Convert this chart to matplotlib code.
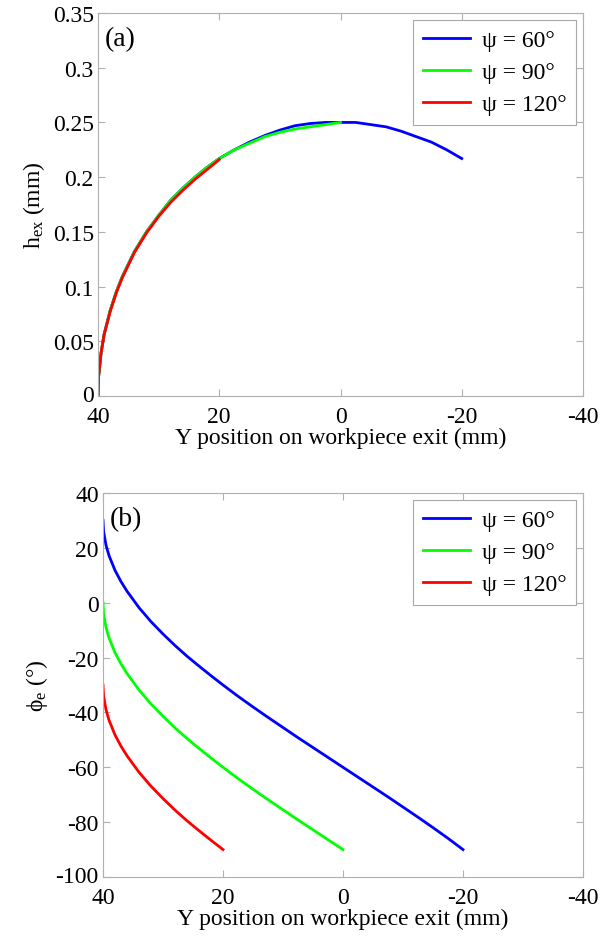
import numpy as np
import matplotlib
matplotlib.use('Agg')
import matplotlib.pyplot as plt
import matplotlib.transforms as mtransforms

plt.rcParams['font.family'] = ['Liberation Serif', 'DejaVu Serif']
plt.rcParams['mathtext.fontset'] = 'custom'
plt.rcParams['mathtext.rm'] = 'Liberation Serif'
plt.rcParams['mathtext.it'] = 'Liberation Serif:italic'
plt.rcParams['axes.unicode_minus'] = False

# Y position on workpiece exit (mm)
y60 = [40, 39.9, 39.5, 39, 38, 37, 36, 34, 32, 30, 28, 26, 24, 22, 20, 17.5, 15, 12.5,
       10, 7.5, 5, 2.5, 0, -2.5, -5, -7.5, -10, -12.5, -15, -17.5, -20]
y90 = y60[:23]
y120 = y60[:15]

# h_ex (mm)
h60 = [0, 0.018, 0.039, 0.056, 0.078, 0.095, 0.109, 0.132, 0.150, 0.165, 0.179, 0.190,
       0.200, 0.209, 0.217, 0.225, 0.232, 0.238, 0.243, 0.247, 0.249, 0.250, 0.250, 0.250,
       0.248, 0.246, 0.242, 0.237, 0.232, 0.225, 0.217]
h90 = [0, 0.018, 0.039, 0.056, 0.078, 0.095, 0.109, 0.132, 0.150, 0.165, 0.179, 0.190,
       0.200, 0.209, 0.217, 0.225, 0.231, 0.237, 0.241, 0.244, 0.246, 0.248, 0.250]
h120 = [0, 0.018, 0.039, 0.056, 0.077, 0.094, 0.108, 0.131, 0.149, 0.164, 0.177, 0.188,
        0.198, 0.207, 0.216]

# phi_e (deg)
p60 = [30, 26, 21, 17.2, 11.8, 7.7, 4.2, -1.8, -6.9, -11.4, -15.6, -19.5, -23.1, -26.6,
       -30, -34.1, -38, -41.8, -45.5, -49.2, -52.8, -56.4, -60, -63.6, -67.2, -70.8,
       -74.5, -78.2, -82, -85.9, -90]
p90 = [0, -4, -9, -12.8, -18.2, -22.3, -25.8, -31.8, -36.9, -41.4, -45.6, -49.5, -53.1,
       -56.6, -60, -64.1, -68, -71.8, -75.5, -79.2, -82.8, -86.4, -90]
p120 = [-30, -34, -39, -42.8, -48.2, -52.3, -55.8, -61.8, -66.9, -71.4, -75.6, -79.5,
        -83.1, -86.6, -90]

labels = ['ψ = 60°', 'ψ = 90°', 'ψ = 120°']
colors = ['#0000ff', '#00ff00', '#ff0000']

fig = plt.figure(figsize=(6.05, 9.37), dpi=100)
ax1 = fig.add_axes([98/605, 1-397/937, 485/605, 383/937])
ax2 = fig.add_axes([103/605, 1-878/937, 480/605, 384/937])

for ax in (ax1, ax2):
    for s in ax.spines.values():
        s.set_color('#b0b0b0')
    ax.tick_params(direction='in', length=5, color='#b0b0b0', labelsize=17,
                   top=True, right=True)
    ax.tick_params(axis='x', pad=7)
    ax.tick_params(axis='y', pad=3)
    ax.set_xlim(40, -40)
    ax.set_xticks([40, 20, 0, -20, -40])
    ax.set_xticklabels(['40', '20', '0', '-20', '-40'])
    ax.set_xlabel('Y position on workpiece exit (mm)', fontsize=17, labelpad=0)

ax1.plot(y60, h60, color=colors[0], lw=2, label=labels[0])
ax1.plot(y90, h90, color=colors[1], lw=2, label=labels[1])
ax1.plot(y120, h120, color=colors[2], lw=2, label=labels[2])
ax1.set_ylim(0, 0.35)
yt = [0, 0.05, 0.1, 0.15, 0.2, 0.25, 0.3, 0.35]
ax1.set_yticks(yt)
ax1.set_yticklabels(['0', '0.05', '0.1', '0.15', '0.2', '0.25', '0.3', '0.35'])
ax1.set_ylabel(r'h$_{\rm ex}$ (mm)', fontsize=17, labelpad=4)
ax1.text(0.014, 0.965, '(a)', transform=ax1.transAxes, fontsize=20, va='top')

ax2.plot(y60, p60, color=colors[0], lw=2, label=labels[0])
ax2.plot(y90, p90, color=colors[1], lw=2, label=labels[1])
ax2.plot(y120, p120, color=colors[2], lw=2, label=labels[2])
ax2.set_ylim(-100, 40)
ax2.set_yticks(range(-100, 41, 20))
ax2.set_ylabel(r'ϕ$_{\rm e}$ (°)', fontsize=17, labelpad=4)
ax2.text(0.014, 0.965, '(b)', transform=ax2.transAxes, fontsize=20, va='top')

# nudge the bottom y labels up a little so they clear the "40" x label
shift = mtransforms.ScaledTranslation(0, 3/100, fig.dpi_scale_trans)
for ax in (ax1, ax2):
    lab = ax.get_yticklabels()[0]
    lab.set_transform(lab.get_transform() + shift)

for ax in (ax1, ax2):
    leg = ax.legend(loc='upper right', fontsize=17, fancybox=False, framealpha=1,
                    edgecolor='#a8a8a8', handlelength=2.0, borderaxespad=0.3,
                    labelspacing=0.45, handletextpad=0.5, borderpad=0.4)
    leg.get_frame().set_linewidth(0.8)

fig.savefig('out.png', dpi=100)
